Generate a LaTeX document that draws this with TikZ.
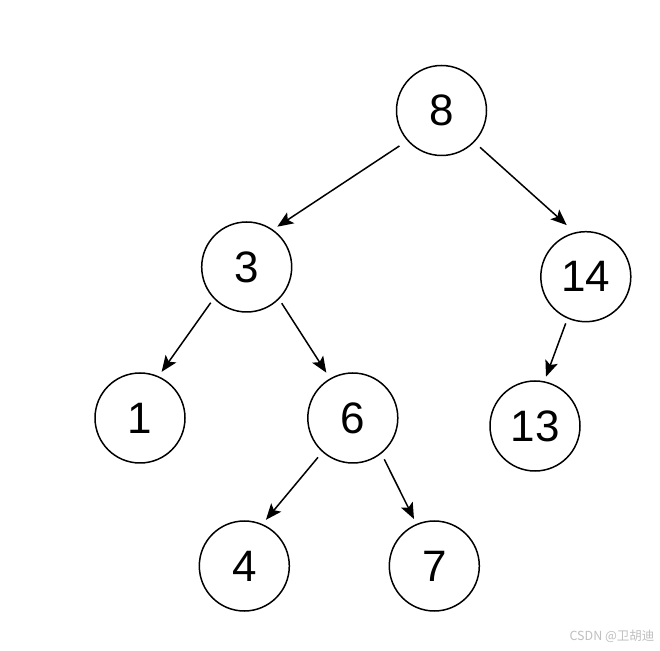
\documentclass[tikz,border=0pt]{standalone}
\usepackage{fontspec}
\setmainfont{Liberation Sans}
\newfontfamily\cjkfont{Noto Sans CJK SC}
\usetikzlibrary{calc,arrows.meta}
\begin{document}
\begin{tikzpicture}[x=1pt,y=1pt,
  treenode/.style={circle,draw=black,line width=1.5pt,minimum size=90pt,inner sep=0pt,
    font=\fontsize{44}{50}\selectfont},
  arr/.style={line width=1.5pt,-{Stealth[length=16pt,width=13pt,inset=3.5pt]}},
  wmark/.style={text=black!25,font=\cjkfont\fontsize{12.5}{14}\selectfont,inner sep=0pt}]
\useasboundingbox[fill=white] (0,0) rectangle (660,650);
\node[treenode] (n8)  at (441.5,539.5) {8};
\node[treenode] (n3)  at (246.7,383) {3};
\node[treenode] (n14) at (585.8,373.3) {14};
\node[treenode] (n1)  at (140,232) {1};
\node[treenode] (n6)  at (352.8,232) {6};
\node[treenode] (n13) at (535,224) {13};
\node[treenode] (n4)  at (244.3,84) {4};
\node[treenode] (n7)  at (434.3,84) {7};
\draw[arr] ($(n8)+(220.1:55pt)$) -- ($(n3)+(52.8:50.6pt)$);
\draw[arr] ($(n8)+(316.3:53.3pt)$) -- ($(n14)+(110.3:55pt)$);
\draw[arr] ($(n3)+(224.8:50.7pt)$) -- ($(n1)+(64.9:51pt)$);
\draw[arr] ($(n3)+(314:50.4pt)$) -- ($(n6)+(120.3:52.5pt)$);
\draw[arr] ($(n6)+(228.5:52.5pt)$) -- ($(n4)+(64.9:51pt)$);
\draw[arr] ($(n6)+(307.3:51.9pt)$) -- ($(n7)+(113.4:51.2pt)$);
\draw[arr] ($(n14)+(246.7:50.8pt)$) -- ($(n13)+(77.4:50.5pt)$);
\node[wmark] (wm) at (612,14) {CSDN @卫胡迪};
\end{tikzpicture}
\end{document}
